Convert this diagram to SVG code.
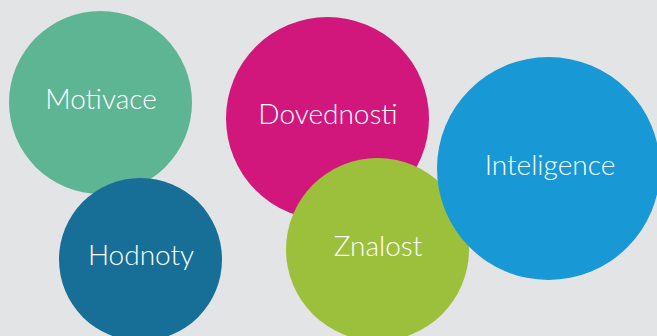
<svg xmlns="http://www.w3.org/2000/svg" width="657" height="336" viewBox="0 0 657 336">
  <style>
    .lbl { fill: #ffffff; font-family: Lato, "Open Sans", "Liberation Sans", sans-serif; font-weight: 300; font-size: 28px; text-anchor: middle; }
  </style>
  <rect width="657" height="336" fill="#e3e4e6"/>
  <g id="motivace">
    <circle cx="100.5" cy="102.5" r="91.5" fill="#5eb593"/>
    <text class="lbl" x="101" y="109">Motivace</text>
  </g>
  <g id="hodnoty">
    <circle cx="140.5" cy="259.5" r="81.5" fill="#176e97"/>
    <text class="lbl" x="141" y="265">Hodnoty</text>
  </g>
  <g id="dovednosti">
    <circle cx="327.5" cy="118.5" r="101.5" fill="#d2177c"/>
    <text class="lbl" x="328" y="124">Dovednosti</text>
  </g>
  <g id="znalost">
    <circle cx="377.5" cy="249.5" r="91.5" fill="#9dc03c"/>
    <text class="lbl" x="378" y="256">Znalost</text>
  </g>
  <g id="inteligence">
    <circle cx="548.5" cy="168.5" r="111.5" fill="#1898d5"/>
    <text class="lbl" x="550" y="175">Inteligence</text>
  </g>
  <g id="connectors"/>
</svg>
